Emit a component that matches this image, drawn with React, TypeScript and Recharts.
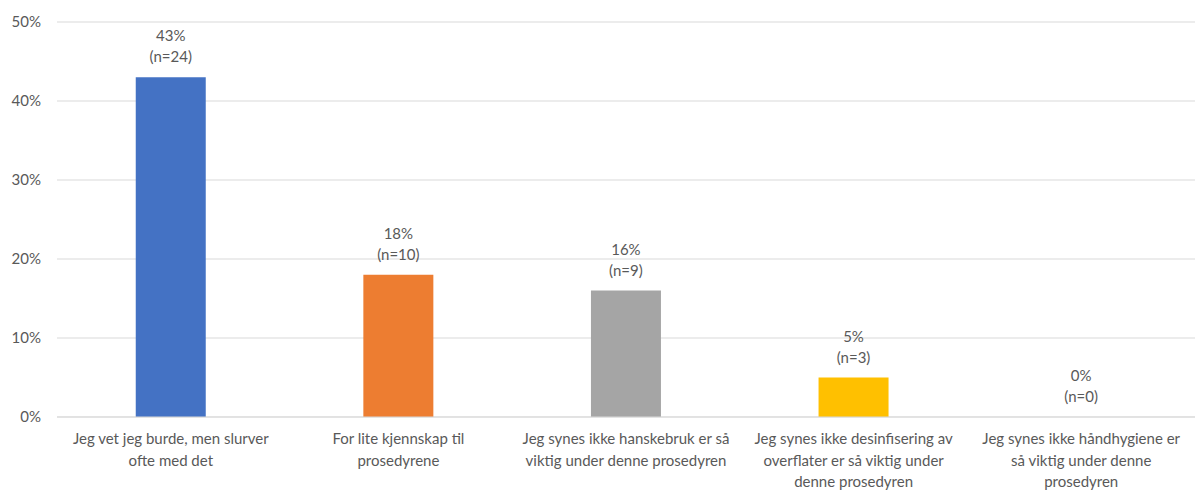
import React from "react";
import { BarChart, Bar, XAxis, YAxis, CartesianGrid, Cell, Rectangle } from "recharts";

const categories = [
  "Jeg vet jeg burde, men slurver ofte med det",
  "For lite kjennskap til prosedyrene",
  "Jeg synes ikke hanskebruk er så viktig under denne prosedyren",
  "Jeg synes ikke desinfisering av overflater er så viktig under denne prosedyren",
  "Jeg synes ikke håndhygiene er så viktig under denne prosedyren",
];
const categoryLines = [
  ["Jeg vet jeg burde, men slurver", "ofte med det"],
  ["For lite kjennskap til", "prosedyrene"],
  ["Jeg synes ikke hanskebruk er så", "viktig under denne prosedyren"],
  ["Jeg synes ikke desinfisering av", "overflater er så viktig under", "denne prosedyren"],
  ["Jeg synes ikke håndhygiene er", "så viktig under denne", "prosedyren"],
];
const shares = [0.43, 0.18, 0.16, 0.05, 0.0];
const counts = [24, 10, 9, 3, 0];
const colors = ["#4472C4", "#ED7D31", "#A5A5A5", "#FFC000", "#5B9BD5"];
const yTicks = [0, 0.1, 0.2, 0.3, 0.4, 0.5];

const data = categories.map((c, i) => ({
  name: c,
  value: shares[i],
  n: counts[i],
}));

const FONT = "Lato, 'Open Sans', sans-serif";
const TEXT = "#595959";
const FS = 15;

const XTick = (props: any) => {
  const { x, y, payload } = props;
  const lines = categoryLines[payload.index] || [];
  return (
    <g>
      {lines.map((l: string, i: number) => (
        <text
          key={i}
          x={x}
          y={y + 19 + i * 21.5}
          textAnchor="middle"
          fontFamily={FONT}
          fontSize={FS}
          fill={TEXT}
        >
          {l}
        </text>
      ))}
    </g>
  );
};

const BarShape = (props: any) => {
  const { x, y, width, height, index, fill } = props;
  const cx = x + width / 2;
  const top = y;
  return (
    <g>
      {height > 0 && <Rectangle x={x} y={y} width={width} height={height} fill={fill} />}
      <text x={cx} y={top - 36} textAnchor="middle" fontFamily={FONT} fontSize={FS} fill={TEXT}>
        {Math.round(shares[index] * 100) + "%"}
      </text>
      <text x={cx} y={top - 15} textAnchor="middle" fontFamily={FONT} fontSize={FS} fill={TEXT}>
        {"(n=" + counts[index] + ")"}
      </text>
    </g>
  );
};

export default function App() {
  return (
    <div style={{ width: 1195, height: 490, background: "#fff" }}>
      <style>{`body{margin:0;background:#fff}`}</style>
      <BarChart
        width={1195}
        height={490}
        data={data}
        margin={{ top: 22, right: 0, bottom: 0, left: 0 }}
        barCategoryGap="34.6%"
      >
        <CartesianGrid vertical={false} stroke="#d9d9d9" strokeWidth={1} />
        <XAxis
          dataKey="name"
          height={73}
          interval={0}
          tickLine={false}
          axisLine={{ stroke: "#d9d9d9" }}
          tick={<XTick />}
        />
        <YAxis
          width={57}
          domain={[0, 0.5]}
          ticks={yTicks}
          tickFormatter={(v: number) => Math.round(v * 100) + "%"}
          axisLine={false}
          tickLine={false}
          tickMargin={10}
          tick={{ fontFamily: FONT, fontSize: FS, fill: TEXT }}
        />
        <Bar dataKey="value" isAnimationActive={false} shape={<BarShape />}>
          {data.map((d, i) => (
            <Cell key={i} fill={colors[i]} />
          ))}
        </Bar>
      </BarChart>
    </div>
  );
}
